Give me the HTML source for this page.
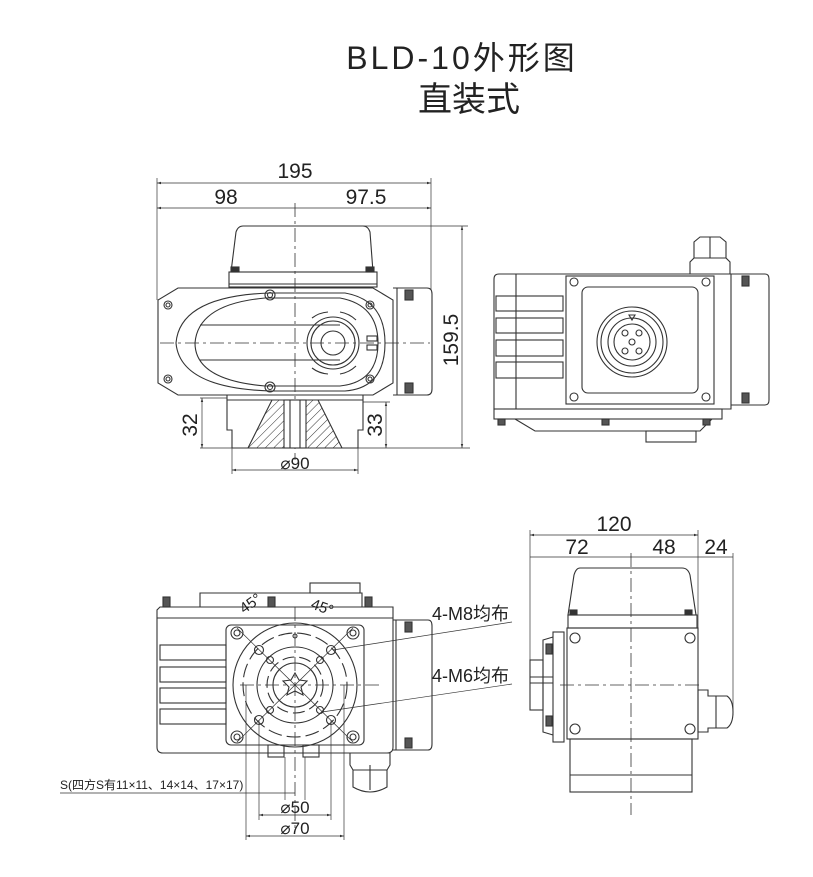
<!DOCTYPE html>
<html><head><meta charset="utf-8"><style>
html,body{margin:0;padding:0;background:#fff}
svg{display:block}
text{font-family:"Liberation Sans","Noto Sans CJK SC",sans-serif;fill:#222}
</style></head><body>
<svg width="813" height="877" viewBox="0 0 813 877" xmlns="http://www.w3.org/2000/svg">
<defs>
<marker id="a" viewBox="0 0 10 10" refX="10" refY="5" markerWidth="6" markerHeight="6" orient="auto-start-reverse"><path d="M0,2L10,5L0,8z" fill="#333"/></marker>
<pattern id="h" width="6" height="6" patternUnits="userSpaceOnUse" patternTransform="rotate(45)"><line x1="0" y1="0" x2="0" y2="6" stroke="#333" stroke-width="1"/></pattern>
</defs>
<text x="462" y="69" font-size="32" letter-spacing="3" text-anchor="middle">BLD-10外形图</text>
<text x="469" y="111" font-size="34" letter-spacing="0" text-anchor="middle">直装式</text>

<g fill="none" stroke="#333" stroke-width="1.1">
<!-- VIEW 1 -->
<line x1="157" y1="178" x2="157" y2="300" stroke-width=".7"/>
<line x1="431" y1="178" x2="431" y2="290" stroke-width=".7"/>
<line x1="157" y1="183" x2="431" y2="183" stroke-width=".7" marker-start="url(#a)" marker-end="url(#a)"/>
<line x1="157" y1="208" x2="431" y2="208" stroke-width=".7" marker-start="url(#a)" marker-end="url(#a)"/>
<line x1="295" y1="203" x2="295" y2="460" stroke-dasharray="14,4,3,4" stroke-width=".8"/>
<path d="M243,226 L363,226 Q368,226 370,232 L373,272 L231,272 L236,232 Q238,226 243,226z"/>
<rect x="229" y="272" width="148" height="15"/>
<line x1="229" y1="284" x2="377" y2="284"/>
<rect x="231" y="267" width="8" height="5" fill="#333"/><rect x="366" y="267" width="8" height="5" fill="#333"/>
<path d="M178,288 L373,288 L393,300 L393,383 L373,395 L178,395 L158,383 L158,300z"/>
<path d="M393,288 L427,288 Q432,288 432,294 L432,389 Q432,395 427,395 L393,395"/>
<line x1="397" y1="288" x2="397" y2="395"/>
<rect x="405" y="290" width="8" height="10" fill="#555"/><rect x="405" y="383" width="8" height="10" fill="#555"/>
<path d="M270,293 L345,293 Q385,300 385,343 Q385,388 345,391 L270,391 Q180,388 176,343 Q180,296 270,293z"/>
<path d="M265,298 L340,298 Q378,305 378,343 Q378,382 340,386 L265,386 Q195,380 195,343 Q198,304 265,298z"/>
<line x1="200" y1="325" x2="340" y2="325"/><line x1="200" y1="360" x2="340" y2="360"/>
<line x1="160" y1="343" x2="430" y2="343" stroke-dasharray="14,4,3,4" stroke-width=".8"/>
<circle cx="333" cy="343" r="26"/><circle cx="333" cy="343" r="22"/><circle cx="333" cy="343" r="12"/>
<rect x="367" y="336" width="10" height="5"/><rect x="367" y="345" width="10" height="5"/>
<path d="M312,318 A30,30 0 0 1 328,312"/><path d="M340,312 A30,30 0 0 1 356,320"/>
<path d="M312,368 A30,30 0 0 0 328,374"/><path d="M340,374 A30,30 0 0 0 356,366"/>
<circle cx="168" cy="305" r="4"/><circle cx="168" cy="305" r="2"/>
<circle cx="370" cy="305" r="4"/><circle cx="370" cy="305" r="2"/>
<circle cx="168" cy="379" r="4"/><circle cx="168" cy="379" r="2"/>
<circle cx="370" cy="379" r="4"/><circle cx="370" cy="379" r="2"/>
<circle cx="270" cy="295" r="5"/><circle cx="270" cy="295" r="2.5"/>
<circle cx="270" cy="387" r="5"/><circle cx="270" cy="387" r="2.5"/>
<path d="M227,395 L227,430 L232,430 L232,448 L358,448 L358,430 L363,430 L363,395"/>
<line x1="227" y1="400" x2="363" y2="400"/>
<path d="M272,400 L318,400 L342,448 L248,448z" fill="url(#h)"/>
<rect x="284" y="400" width="22" height="48" fill="#fff"/>
<line x1="290" y1="400" x2="290" y2="448"/><line x1="300" y1="400" x2="300" y2="448"/>
<line x1="200" y1="398" x2="227" y2="398" stroke-width=".7"/><line x1="200" y1="448" x2="470" y2="448" stroke-width=".7"/>
<line x1="202" y1="398" x2="202" y2="448" stroke-width=".7" marker-start="url(#a)" marker-end="url(#a)"/>
<line x1="363" y1="402" x2="390" y2="402" stroke-width=".7"/>
<line x1="386" y1="402" x2="386" y2="448" stroke-width=".7" marker-start="url(#a)" marker-end="url(#a)"/>
<line x1="363" y1="226" x2="468" y2="226" stroke-width=".7"/>
<line x1="462" y1="226" x2="462" y2="448" stroke-width=".7" marker-start="url(#a)" marker-end="url(#a)"/>
<line x1="232" y1="448" x2="232" y2="474" stroke-width=".7"/><line x1="358" y1="448" x2="358" y2="474" stroke-width=".7"/>
<line x1="232" y1="470" x2="358" y2="470" stroke-width=".7" marker-start="url(#a)" marker-end="url(#a)"/>

<!-- VIEW 2 -->
<path d="M499,274 L731,274 L731,409 L494,409 L494,279 Q494,274 499,274z"/>
<line x1="516" y1="274" x2="516" y2="409"/>
<rect x="496" y="296" width="67" height="15"/><rect x="496" y="318" width="67" height="15"/>
<rect x="496" y="340" width="67" height="16"/><rect x="496" y="362" width="67" height="16"/>
<rect x="566" y="276" width="148" height="128"/>
<rect x="582" y="287" width="116" height="106" rx="6"/>
<circle cx="632" cy="342" r="35"/><circle cx="632" cy="342" r="31"/><circle cx="632" cy="342" r="24"/><circle cx="632" cy="342" r="18"/>
<circle cx="632" cy="342" r="3"/>
<circle cx="625" cy="333" r="3"/><circle cx="639" cy="333" r="3"/><circle cx="625" cy="351" r="3"/><circle cx="639" cy="351" r="3"/>
<path d="M629,315 L635,315 L632,320z"/>
<circle cx="574" cy="282" r="4"/><circle cx="706" cy="282" r="4"/><circle cx="574" cy="397" r="4"/><circle cx="706" cy="397" r="4"/>
<path d="M731,274 L765,274 Q769,274 769,279 L769,400 Q769,405 765,405 L731,405"/>
<rect x="742" y="276" width="7" height="10" fill="#555"/><rect x="742" y="393" width="7" height="10" fill="#555"/>
<path d="M690,274 L690,262 L694,258 L694,242 L700,237 L720,237 L726,242 L726,258 L730,262 L730,274"/>
<line x1="694" y1="258" x2="726" y2="258"/><line x1="710" y1="237" x2="710" y2="258"/>
<rect x="494" y="409" width="228" height="10"/>
<path d="M515,419 L535,431 L700,431 L712,419"/>
<rect x="646" y="431" width="50" height="11"/>
<rect x="498" y="419" width="7" height="6" fill="#555"/><rect x="602" y="419" width="7" height="6" fill="#555"/><rect x="703" y="419" width="7" height="6" fill="#555"/>

<!-- VIEW 3 -->
<path d="M200,593 L362,593 L362,607 L200,607z"/>
<rect x="310" y="583" width="50" height="10"/>
<path d="M160,607 L393,607 L393,747 Q393,753 387,753 L163,753 Q157,753 157,747 L157,610z"/>
<line x1="157" y1="618" x2="393" y2="618"/>
<rect x="160" y="645" width="66" height="15"/><rect x="160" y="667" width="66" height="15"/><rect x="160" y="688" width="66" height="15"/><rect x="160" y="709" width="66" height="15"/>
<rect x="163" y="597" width="7" height="10" fill="#555"/><rect x="268" y="597" width="7" height="10" fill="#555"/><rect x="365" y="597" width="7" height="10" fill="#555"/>
<path d="M393,620 L428,620 Q432,620 432,626 L432,744 Q432,750 428,750 L393,750"/>
<line x1="396" y1="620" x2="396" y2="750"/>
<rect x="405" y="622" width="7" height="10" fill="#555"/><rect x="405" y="738" width="7" height="10" fill="#555"/>
<rect x="226" y="625" width="138" height="120" rx="5"/>
<circle cx="295" cy="685" r="62"/>
<circle cx="295" cy="685" r="52" stroke-dasharray="14,5"/>
<circle cx="295" cy="685" r="38"/>
<circle cx="295" cy="685" r="28" stroke-dasharray="12,5"/>
<circle cx="295" cy="685" r="22"/>
<path d="M295,673 L299,680 L307,681 L301,687 L303,695 L295,691 L287,695 L289,687 L283,681 L291,680z"/>
<line x1="240" y1="685" x2="380" y2="685" stroke-dasharray="14,4,3,4" stroke-width=".8"/>
<line x1="295" y1="607" x2="295" y2="830" stroke-dasharray="14,4,3,4" stroke-width=".8"/>
<line x1="237" y1="628" x2="353" y2="742" stroke-width=".7"/><line x1="353" y1="628" x2="237" y2="742" stroke-width=".7"/>
<circle cx="237" cy="633" r="6"/><circle cx="237" cy="633" r="3"/>
<circle cx="353" cy="633" r="6"/><circle cx="353" cy="633" r="3"/>
<circle cx="237" cy="737" r="6"/><circle cx="237" cy="737" r="3"/>
<circle cx="353" cy="737" r="6"/><circle cx="353" cy="737" r="3"/>
<circle cx="259" cy="650" r="4.5"/><circle cx="331" cy="650" r="4.5"/><circle cx="259" cy="720" r="4.5"/><circle cx="331" cy="720" r="4.5"/>
<circle cx="270" cy="660" r="3.5"/><circle cx="320" cy="660" r="3.5"/><circle cx="270" cy="710" r="3.5"/><circle cx="320" cy="710" r="3.5"/>
<circle cx="295" cy="636" r="2"/>
<line x1="333" y1="650" x2="512" y2="622" stroke-width=".7"/>
<line x1="322" y1="712" x2="512" y2="684" stroke-width=".7"/>
<rect x="268" y="745" width="16" height="12"/><rect x="303" y="745" width="16" height="12"/>
<path d="M350,753 L390,753 L390,765 L387,770 L387,787 Q370,797 353,787 L353,770 L350,765z"/>
<line x1="353" y1="770" x2="387" y2="770"/><line x1="370" y1="765" x2="370" y2="790"/>
<line x1="60" y1="793" x2="295" y2="793" stroke-width=".7"/>
<line x1="285" y1="757" x2="285" y2="800" stroke-width=".7"/><line x1="305" y1="757" x2="305" y2="800" stroke-width=".7"/>
<line x1="259" y1="720" x2="259" y2="820" stroke-width=".7"/><line x1="331" y1="720" x2="331" y2="820" stroke-width=".7"/>
<line x1="246" y1="685" x2="246" y2="840" stroke-width=".7"/><line x1="344" y1="685" x2="344" y2="840" stroke-width=".7"/>
<line x1="259" y1="815" x2="331" y2="815" stroke-width=".7" marker-start="url(#a)" marker-end="url(#a)"/>
<line x1="246" y1="836" x2="344" y2="836" stroke-width=".7" marker-start="url(#a)" marker-end="url(#a)"/>

<!-- VIEW 4 -->
<line x1="530" y1="530" x2="530" y2="710" stroke-width=".7"/>
<line x1="698" y1="530" x2="698" y2="630" stroke-width=".7"/>
<line x1="733" y1="553" x2="733" y2="715" stroke-width=".7"/>
<line x1="530" y1="535" x2="698" y2="535" stroke-width=".7" marker-start="url(#a)" marker-end="url(#a)"/>
<line x1="530" y1="557" x2="733" y2="557" stroke-width=".7"/>
<line x1="631" y1="553" x2="631" y2="815" stroke-dasharray="14,4,3,4" stroke-width=".8"/>
<path d="M580,568 L682,568 Q688,568 690,575 L696,615 L568,615 L574,575 Q576,568 580,568z"/>
<rect x="568" y="615" width="129" height="13"/>
<rect x="570" y="610" width="7" height="5" fill="#333"/><rect x="685" y="610" width="7" height="5" fill="#333"/>
<rect x="567" y="628" width="131" height="111"/>
<circle cx="575" cy="638" r="5"/><circle cx="690" cy="638" r="5"/><circle cx="575" cy="729" r="5"/><circle cx="690" cy="729" r="5"/>
<line x1="560" y1="685" x2="700" y2="685" stroke-dasharray="14,4,3,4" stroke-width=".8"/>
<rect x="553" y="632" width="11" height="110"/>
<path d="M553,637 L543,640 L543,732 L553,735"/>
<rect x="530" y="660" width="13" height="50"/>
<line x1="530" y1="677" x2="553" y2="677"/><line x1="530" y1="683" x2="553" y2="683"/>
<rect x="546" y="644" width="6" height="10" fill="#555"/><rect x="546" y="716" width="6" height="10" fill="#555"/>
<path d="M698,690 L708,690 L708,696 L727,696 Q733,700 733,712 Q733,724 727,728 L708,728 L708,732 L698,732z"/>
<line x1="716" y1="696" x2="716" y2="728"/>
<rect x="570" y="739" width="122" height="53"/>
<line x1="570" y1="775" x2="692" y2="775"/>
</g>

<g font-size="21">
<text x="295" y="178" text-anchor="middle">195</text>
<text x="226" y="204" text-anchor="middle">98</text>
<text x="366" y="204" text-anchor="middle">97.5</text>
<text x="295" y="469" text-anchor="middle" font-size="17">⌀90</text>
<text transform="translate(197,425) rotate(-90)" text-anchor="middle">32</text>
<text transform="translate(382,425) rotate(-90)" text-anchor="middle">33</text>
<text transform="translate(458,340) rotate(-90)" text-anchor="middle">159.5</text>
<text x="614" y="531" text-anchor="middle">120</text>
<text x="577" y="554" text-anchor="middle">72</text>
<text x="664" y="554" text-anchor="middle">48</text>
<text x="716" y="554" text-anchor="middle">24</text>
<text x="295" y="813" text-anchor="middle" font-size="17">⌀50</text>
<text x="295" y="834" text-anchor="middle" font-size="17">⌀70</text>
<text x="432" y="620" font-size="18">4-M8均布</text>
<text x="432" y="682" font-size="18">4-M6均布</text>
<text x="244" y="614" font-size="15" transform="rotate(-35 244 614)">45°</text>
<text x="310" y="608" font-size="15" transform="rotate(20 310 608)">45°</text>
<text x="60" y="789" font-size="12">S(四方S有11×11、14×14、17×17)</text>
</g>
</svg>
</body></html>
